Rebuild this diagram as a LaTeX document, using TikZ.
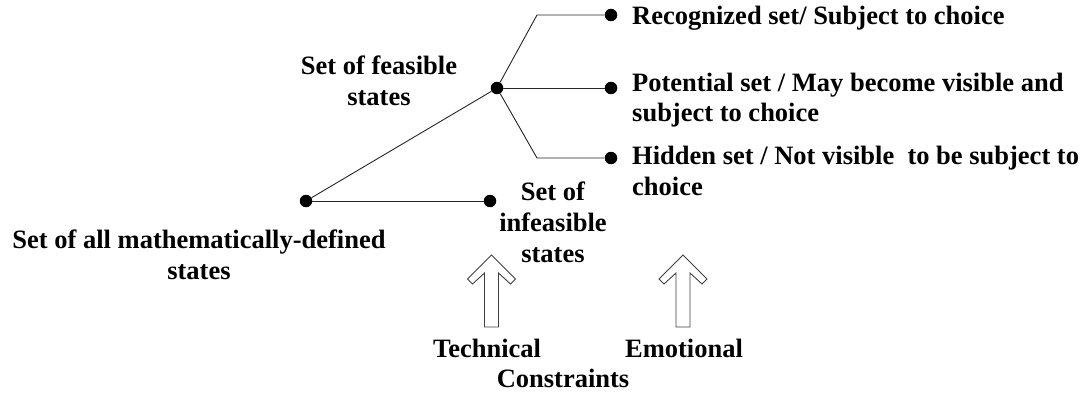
\documentclass[tikz,border=0pt]{standalone}
\usepackage{fontspec}
\setmainfont{Liberation Serif}
\begin{document}
\begin{tikzpicture}[x=1pt,y=-1pt,
  dot/.style={circle,fill=black,inner sep=0pt,minimum size=12.5pt},
  link/.style={draw=black!85,line width=0.9pt},
  lbl/.style={font=\fontsize{26.5}{31}\selectfont\bfseries,inner sep=0pt,anchor=base},
  lblc/.style={lbl,align=center},
  lbll/.style={lbl,align=left,anchor=base west},
  arrowline/.style={draw=black!75,line width=0.9pt,fill=white,line join=miter},
  uparrow/.pic={\path[arrowline] (0,0) -- (24,24) -- (19,29) -- (7,18) -- (7,72)
      -- (-7,72) -- (-7,18) -- (-19,29) -- (-24,24) -- cycle;}]
\useasboundingbox (0,0) rectangle (1089,393);

% tree of state sets
\node[dot] (root)   at (306,201) {};
\node[dot] (infeas) at (490,201) {};
\node[dot] (feas)   at (497,88) {};
\node[dot] (rec)    at (611,15) {};
\node[dot] (pot)    at (611,88) {};
\node[dot] (hid)    at (611,158) {};
\coordinate (upbend)  at (537,15);
\coordinate (lowbend) at (537,158);

\draw[link] (root) -- (feas);
\draw[link] (root) -- (infeas);
\draw[link] (feas) -- (upbend) -- (rec);
\draw[link] (feas) -- (pot);
\draw[link] (feas) -- (lowbend) -- (hid);

% labels (multi-line nodes sit on the baseline of their last line)
\node[lblc] (rootlbl) at (199,279) {Set of all mathematically-defined\\states};
\node[lblc] (feaslbl) at (379,106) {Set of feasible\\states};
\node[lblc] (infeaslbl) at (553,262) {Set of\\infeasible\\states};
\node[lbll] (reclbl) at (632,25) {Recognized set/ Subject to choice};
\node[lbll] (potlbl) at (632,122) {Potential set / May become visible and\\subject to choice};
\node[lbll] (hidlbl) at (632,195) {Hidden set / Not visible\ \ to be subject to\\choice};

% constraint arrows
\pic at (491.5,255) {uparrow};
\pic at (683,255) {uparrow};
\node[lbl] (tech) at (487,357) {Technical};
\node[lbl] (emo)  at (684,357) {Emotional};
\node[lbl] (cons) at (563,387) {Constraints};
\end{tikzpicture}
\end{document}
